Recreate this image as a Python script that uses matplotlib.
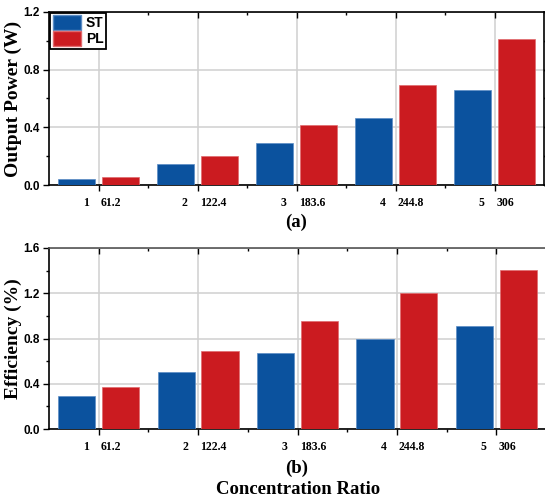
import matplotlib
matplotlib.use("Agg")
import matplotlib.pyplot as plt
import numpy as np
from matplotlib.ticker import MultipleLocator, FixedLocator, FormatStrFormatter
from matplotlib.patches import Patch

groups = [1, 2, 3, 4, 5]
ratios = ["61.2", "122.4", "183.6", "244.8", "306"]
power_st = [0.042, 0.146, 0.291, 0.465, 0.657]
power_pl = [0.055, 0.201, 0.416, 0.691, 1.015]
eff_st = [0.288, 0.503, 0.668, 0.800, 0.910]
eff_pl = [0.374, 0.686, 0.959, 1.198, 1.407]

BLUE = "#0B529E"
RED = "#CB1B20"
W = 545; H = 504
fig = plt.figure(figsize=(W / 100, H / 100), dpi=100)

serif = ["Liberation Serif", "DejaVu Serif"]
sans = ["Liberation Sans", "DejaVu Sans"]

def make_ax(rect, st, pl, ymax, ylabel, topcolor):
    ax = fig.add_axes(rect)
    x = np.array(groups, dtype=float)
    ax.bar(x - 0.22, st, width=0.375, color=BLUE, edgecolor="#5b8cc4", linewidth=0.5, zorder=3)
    ax.bar(x + 0.22, pl, width=0.375, color=RED, edgecolor="#e06a6d", linewidth=0.5, zorder=3)
    ax.set_xlim(0.5, 5.5)
    ax.set_ylim(0, ymax)
    ax.yaxis.set_major_locator(MultipleLocator(0.4))
    ax.yaxis.set_minor_locator(MultipleLocator(0.2))
    ax.yaxis.set_major_formatter(FormatStrFormatter("%.1f"))
    ax.xaxis.set_major_locator(FixedLocator(groups))
    ax.xaxis.set_minor_locator(FixedLocator([1.5, 2.5, 3.5, 4.5]))
    ax.grid(True, which="major", color="#d0d0d0", linewidth=1.1, zorder=0)
    ax.set_axisbelow(True)
    ax.tick_params(axis="both", which="both", direction="out", width=1.0, color="black")
    ax.tick_params(axis="both", which="major", length=4)
    ax.tick_params(axis="both", which="minor", length=2.5)
    ax.tick_params(axis="y", which="major", pad=2.5)
    ax.set_xticklabels([])
    for lab in ax.get_yticklabels():
        lab.set_fontfamily(sans)
        lab.set_fontweight("bold")
        lab.set_fontsize(8.5)
    for sp in ax.spines.values():
        sp.set_linewidth(1.2)
    ax.spines["top"].set_color(topcolor)
    for g, r in zip(groups, ratios):
        ax.annotate(str(g), xy=(g, 0), xycoords=("data", "axes fraction"),
                    xytext=(-7, -9), textcoords="offset points", ha="right", va="top",
                    fontfamily=serif, fontweight="bold", fontsize=8.5)
        ax.annotate(r, xy=(g, 0), xycoords=("data", "axes fraction"),
                    xytext=(1.5, -9), textcoords="offset points", ha="left", va="top",
                    fontfamily=serif, fontweight="bold", fontsize=8.5)
    ax.set_ylabel(ylabel, fontfamily=serif, fontweight="bold", fontsize=14)
    ax.yaxis.set_label_coords(-0.054, 0.5)
    ax.tick_params(axis="x", which="both", top=True)
    ax.tick_params(axis="y", which="both", right=True)
    for t in ax.xaxis.get_major_ticks() + ax.xaxis.get_minor_ticks():
        t.tick2line.set_marker(3)
    for t in ax.yaxis.get_major_ticks() + ax.yaxis.get_minor_ticks():
        t.tick2line.set_marker(4)
    return ax

ax1 = make_ax([49 / W, 1 - 185 / H, 495 / W, 173 / H], power_st, power_pl, 1.2,
              "Output Power (W)", "black")
ax2 = make_ax([49 / W, 1 - 429 / H, 497 / W, 181 / H], eff_st, eff_pl, 1.6,
              "Efficiency (%)", "#555555")

fig.text(296 / W, 1 - 222 / H, "(a)", ha="center", va="center",
         fontfamily=serif, fontweight="bold", fontsize=13.5)
fig.text(297 / W, 1 - 468 / H, "(b)", ha="center", va="center",
         fontfamily=serif, fontweight="bold", fontsize=13.5)
fig.text(298 / W, 1 - 490 / H, "Concentration Ratio", ha="center", va="center",
         fontfamily=serif, fontweight="bold", fontsize=13.5)

handles = [Patch(facecolor=BLUE, edgecolor="#5b8cc4", label="ST"),
           Patch(facecolor=RED, edgecolor="#e06a6d", label="PL")]
leg = ax1.legend(handles=handles, loc="upper left", bbox_to_anchor=(0.003, 0.997),
                 prop={"family": sans, "weight": "bold", "size": 10},
                 frameon=True, fancybox=False, edgecolor="black", framealpha=1,
                 handlelength=2.0, handleheight=1.2, handletextpad=0.35,
                 borderpad=0.2, labelspacing=0.1, borderaxespad=0.0)
leg.get_frame().set_linewidth(1.3)

fig.savefig("out.png", dpi=100)
